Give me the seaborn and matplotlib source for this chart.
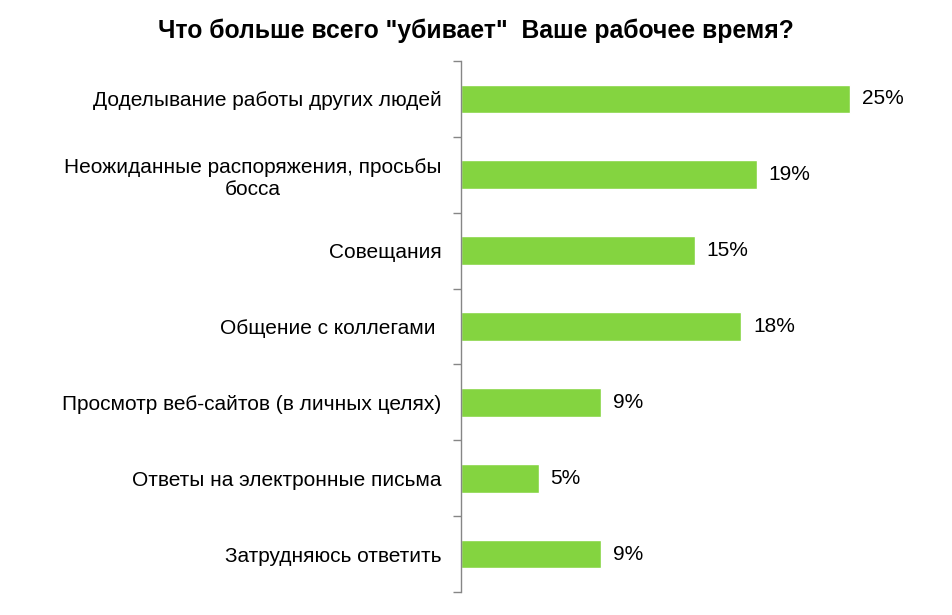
import numpy as np
import pandas as pd
import seaborn as sns
import matplotlib.pyplot as plt

categories = [
    'Доделывание работы других людей',
    'Неожиданные распоряжения, просьбы\nбосса',
    'Совещания',
    'Общение с коллегами ',
    'Просмотр веб-сайтов (в личных целях)',
    'Ответы на электронные письма',
    'Затрудняюсь ответить',
]
values = [25, 19, 15, 18, 9, 5, 9]

df = pd.DataFrame({'category': categories, 'value': values})

sns.set_style('white')
plt.rcParams['font.family'] = ['Liberation Sans', 'DejaVu Sans']
plt.rcParams['text.color'] = 'black'
plt.rcParams['ytick.color'] = '#868686'
plt.rcParams['ytick.labelcolor'] = 'black'

fig = plt.figure(figsize=(9.52, 6.15), dpi=100)
ax = fig.add_axes([0.4843, 0.0374, 0.4907, 0.8634])

sns.barplot(data=df, y='category', x='value', orient='h', color='#84d440',
            width=0.38, saturation=1, ax=ax)

ax.set_xlim(0, 30)
ax.set_ylim(len(categories) - 0.5, -0.5)

# labels at bar centres, tick marks at category boundaries
ax.set_yticks(np.arange(len(categories)))
ax.set_yticklabels(categories, fontsize=15, multialignment='center')
ax.tick_params(axis='y', which='major', length=0, pad=14, left=True)
ax.set_yticks(np.arange(-0.5, len(categories)), minor=True)
ax.tick_params(axis='y', which='minor', length=6, color='#868686', width=1,
               left=True, direction='out')

ax.set_xticks([])
ax.set_xlabel('')
ax.set_ylabel('')
for s in ['top', 'right', 'bottom']:
    ax.spines[s].set_visible(False)
ax.spines['left'].set_color('#868686')
ax.spines['left'].set_linewidth(1)

for i, v in enumerate(values):
    ax.text(v + 0.75, i, f'{v}%', va='center', ha='left', fontsize=15,
            color='black')

fig.suptitle('Что больше всего "убивает"  Ваше рабочее время?',
             x=0.5, y=0.97, fontsize=17.8, fontweight='bold', color='black')

plt.savefig('out.png', dpi=100)
